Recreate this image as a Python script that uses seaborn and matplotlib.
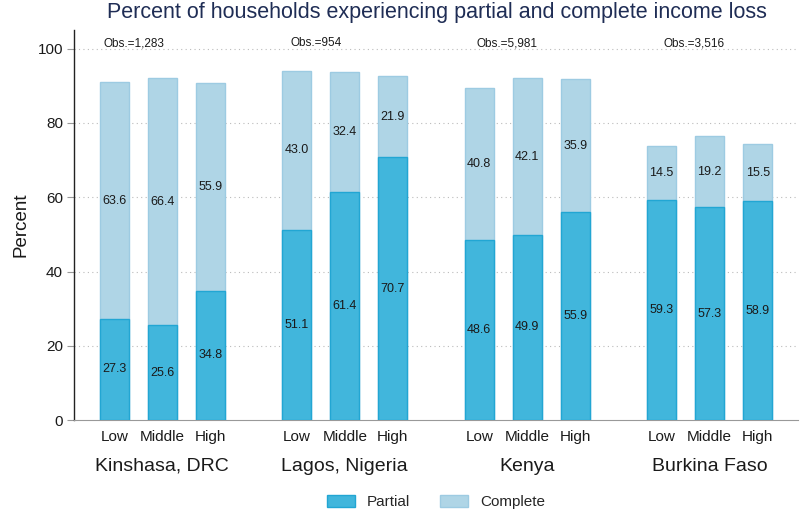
import pandas as pd
import matplotlib.pyplot as plt
import numpy as np
import seaborn as sns

# Data
regions = ['Kinshasa, DRC', 'Lagos, Nigeria', 'Kenya', 'Burkina Faso']
levels = ['Low', 'Middle', 'High']
obs = ['Obs.=1,283', 'Obs.=954', 'Obs.=5,981', 'Obs.=3,516']
partial = [27.3, 25.6, 34.8, 51.1, 61.4, 70.7, 48.6, 49.9, 55.9, 59.3, 57.3, 58.9]
complete = [63.6, 66.4, 55.9, 43.0, 32.4, 21.9, 40.8, 42.1, 35.9, 14.5, 19.2, 15.5]

# Build long table with numeric positions (3 bars per group, gap between groups)
group_step = 3.8
rows = []
for g, reg in enumerate(regions):
    for i, lev in enumerate(levels):
        k = g * 3 + i
        rows.append({'pos': g * group_step + i, 'region': reg, 'level': lev,
                     'partial': partial[k], 'complete': complete[k],
                     'total': partial[k] + complete[k]})
df = pd.DataFrame(rows)

sns.set_style('white')
plt.rcParams['font.family'] = ['Liberation Sans', 'DejaVu Sans']

c_partial = '#41b6dc'
e_partial = '#22a6d3'
c_complete = '#afd5e6'
e_complete = '#9dcbe2'

fig = plt.figure(figsize=(8, 5.13), dpi=100)
ax = fig.add_axes([0.0925, 0.181, 0.905, 0.7605])

sns.barplot(data=df, x='pos', y='total', native_scale=True, width=0.6,
            color=c_complete, edgecolor=e_complete, linewidth=1,
            saturation=1, errorbar=None, ax=ax, label='Complete', zorder=3)
sns.barplot(data=df, x='pos', y='partial', native_scale=True, width=0.6,
            color=c_partial, edgecolor=e_partial, linewidth=1,
            saturation=1, errorbar=None, ax=ax, label='Partial', zorder=3)

# value labels
for _, r in df.iterrows():
    ax.text(r['pos'], r['partial'] / 2, f"{r['partial']:.1f}", ha='center',
            va='center', fontsize=9, color='#1a1a1a', zorder=5)
    ax.text(r['pos'], (r['partial'] + r['total']) / 2, f"{r['complete']:.1f}",
            ha='center', va='center', fontsize=9, color='#1a1a1a', zorder=5)

# obs labels and group labels
for g, reg in enumerate(regions):
    x0 = g * group_step
    ax.text(x0 - 0.23 + g * 0.09, 101.4, obs[g], ha='left', va='center',
            fontsize=8.5, color='#1a1a1a')
    ax.text(x0 + 1, -0.118, reg, ha='center', va='center', fontsize=14,
            color='#1a1a1a', transform=ax.get_xaxis_transform())

ax.set_xticks(df['pos'])
ax.set_xticklabels(df['level'], fontsize=11, color='#1a1a1a')
ax.tick_params(axis='x', length=0, pad=7)
ax.set_xlim(-0.84, 3 * group_step + 2 + 0.84)

ax.set_ylim(0, 105)
ax.set_yticks([0, 20, 40, 60, 80, 100])
ax.tick_params(axis='y', length=5, width=0.8, color='#999999', labelsize=11,
               labelcolor='#1a1a1a', pad=3, left=True)
ax.set_ylabel('Percent', fontsize=13.5, color='#1a1a1a', labelpad=6)
ax.set_xlabel('')

for y in [20, 40, 60, 80, 100]:
    ax.axhline(y, color='#bbbbbb', linestyle=(0, (1, 3)), linewidth=0.8, zorder=1)

sns.despine(ax=ax, top=True, right=True)
ax.spines['left'].set_color('#222222')
ax.spines['left'].set_linewidth(1)
ax.spines['bottom'].set_color('#999999')
ax.spines['bottom'].set_linewidth(0.8)

handles, labels = ax.get_legend_handles_labels()
order = [labels.index('Partial'), labels.index('Complete')]
ax.legend([handles[i] for i in order], [labels[i] for i in order],
          loc='center', bbox_to_anchor=(0.5, -0.21), ncol=2, frameon=False,
          fontsize=11, handlelength=1.83, handleheight=0.78,
          handletextpad=0.78, columnspacing=1.96)

fig.text(0.5456, 0.975, 'Percent of households experiencing partial and complete income loss',
         ha='center', va='center', fontsize=15.5, color='#1f2d55')

plt.savefig('out.png', dpi=100)
